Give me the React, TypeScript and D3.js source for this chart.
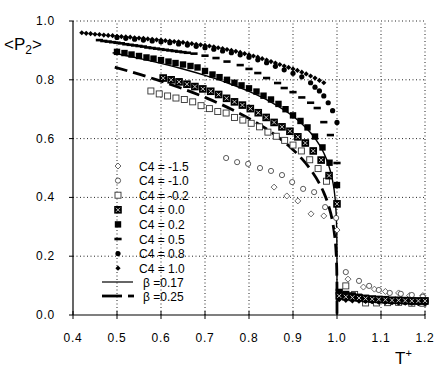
import React from "react";
import * as d3 from "d3";

// ---------- data ----------
const xTicks = [0.4, 0.5, 0.6, 0.7, 0.8, 0.9, 1.0, 1.1, 1.2];
const yTicks = [0.0, 0.2, 0.4, 0.6, 0.8, 1.0];

const legendLabels = ["C4 = -1.5", "C4 = -1.0", "C4 = -0.2", "C4 = 0.0", "C4 = 0.2", "C4 = 0.5", "C4 = 0.8", "C4 = 1.0"];
const lineLabels = ["β =0.17", "β =0.25"];

// C4 = -1.5 (open diamonds)
const tM15 = [0.857, 0.886, 0.911, 0.941, 0.97, 1.0, 1.025, 1.06, 1.085, 1.11, 1.14, 1.165, 1.195];
const pM15 = [0.435, 0.405, 0.388, 0.344, 0.337, 0.289, 0.122, 0.095, 0.088, 0.08, 0.075, 0.066, 0.066];
// C4 = -1.0 (open circles)
const tM10 = [0.748, 0.773, 0.798, 0.825, 0.85, 0.875, 0.898, 0.923, 0.948, 0.973, 0.998, 1.02, 1.05, 1.073, 1.095, 1.12, 1.145, 1.17, 1.195];
const pM10 = [0.534, 0.52, 0.514, 0.5, 0.49, 0.476, 0.452, 0.429, 0.418, 0.367, 0.33, 0.146, 0.116, 0.099, 0.085, 0.075, 0.072, 0.068, 0.062];
// C4 = -0.2 (open squares)
const tM02 = [0.577, 0.596, 0.615, 0.634, 0.653, 0.672, 0.691, 0.71, 0.729, 0.748, 0.767, 0.786, 0.805, 0.824, 0.843, 0.862, 0.881, 0.9, 0.919, 0.938, 0.957, 0.976, 1.02, 1.04, 1.065, 1.09, 1.115, 1.14, 1.17, 1.195];
const pM02 = [0.762, 0.752, 0.745, 0.738, 0.733, 0.725, 0.712, 0.702, 0.692, 0.687, 0.672, 0.663, 0.652, 0.64, 0.622, 0.608, 0.594, 0.578, 0.558, 0.528, 0.498, 0.455, 0.099, 0.07, 0.041, 0.041, 0.042, 0.043, 0.04, 0.04];
// C4 = 0.0 (x squares)
const tP00 = [0.605, 0.623, 0.641, 0.659, 0.677, 0.695, 0.713, 0.731, 0.749, 0.767, 0.785, 0.803, 0.821, 0.839, 0.857, 0.875, 0.893, 0.911, 0.928, 0.946, 0.964, 0.982, 1.0,
  1.005, 1.02, 1.035, 1.05, 1.065, 1.08, 1.095, 1.11, 1.125, 1.14, 1.155, 1.17, 1.185, 1.2];
const pP00 = [0.806, 0.8, 0.793, 0.785, 0.777, 0.769, 0.761, 0.75, 0.737, 0.725, 0.714, 0.702, 0.688, 0.672, 0.655, 0.64, 0.625, 0.606, 0.585, 0.558, 0.527, 0.474, 0.378,
  0.065, 0.062, 0.06, 0.058, 0.056, 0.054, 0.053, 0.052, 0.05, 0.05, 0.049, 0.048, 0.048, 0.048];
// C4 = 0.2 (filled squares)
const tP02 = [0.5, 0.517, 0.533, 0.55, 0.567, 0.583, 0.6, 0.617, 0.633, 0.65, 0.667, 0.683, 0.7, 0.717, 0.733, 0.75, 0.767, 0.783, 0.8, 0.817, 0.833, 0.85, 0.867, 0.883, 0.9, 0.917, 0.933, 0.95, 0.967, 0.983, 1.0,
  1.005, 1.02, 1.035, 1.05, 1.065, 1.08, 1.095, 1.11, 1.125, 1.14, 1.155, 1.17, 1.185, 1.2];
const pP02 = [0.895, 0.891, 0.886, 0.881, 0.876, 0.872, 0.867, 0.862, 0.857, 0.852, 0.847, 0.842, 0.83, 0.818, 0.809, 0.8, 0.79, 0.781, 0.771, 0.76, 0.746, 0.733, 0.718, 0.7, 0.679, 0.66, 0.638, 0.607, 0.57, 0.518, 0.442,
  0.075, 0.07, 0.066, 0.062, 0.058, 0.055, 0.053, 0.051, 0.05, 0.049, 0.048, 0.047, 0.046, 0.046];
// C4 = 0.5 (short dashes)
const tP05 = [0.46, 0.47, 0.48, 0.49, 0.5, 0.51, 0.52, 0.53, 0.54, 0.55, 0.56, 0.57, 0.58, 0.59, 0.6, 0.61, 0.62, 0.63, 0.64, 0.65, 0.66,
  0.675, 0.7, 0.725, 0.75, 0.78, 0.8, 0.82, 0.84, 0.865, 0.88, 0.9, 0.92, 0.94, 0.955, 0.97, 0.985, 1.0,
  1.005, 1.02, 1.035, 1.05, 1.065, 1.08, 1.095, 1.11, 1.125, 1.14, 1.155, 1.17, 1.185, 1.2];
const pP05 = [0.935, 0.932, 0.93, 0.928, 0.926, 0.924, 0.921, 0.919, 0.917, 0.915, 0.913, 0.91, 0.908, 0.906, 0.904, 0.902, 0.9, 0.898, 0.896, 0.894, 0.892,
  0.889, 0.882, 0.874, 0.862, 0.85, 0.837, 0.823, 0.806, 0.789, 0.772, 0.758, 0.74, 0.722, 0.704, 0.656, 0.612, 0.517,
  0.085, 0.078, 0.072, 0.066, 0.062, 0.058, 0.055, 0.053, 0.051, 0.05, 0.049, 0.048, 0.047, 0.046];
// C4 = 0.8 (filled circles)
const tP08 = [0.5, 0.52, 0.54, 0.56, 0.58, 0.6, 0.62, 0.64, 0.66, 0.68, 0.7, 0.72, 0.74, 0.76, 0.78, 0.8, 0.82, 0.84, 0.86, 0.88, 0.9, 0.92, 0.94, 0.95, 0.96, 0.97, 0.98, 0.99, 1.0,
  1.005, 1.02, 1.035, 1.05, 1.065, 1.08, 1.095, 1.11, 1.125, 1.14, 1.155, 1.17, 1.185, 1.2];
const pP08 = [0.944, 0.941, 0.938, 0.935, 0.932, 0.929, 0.926, 0.922, 0.918, 0.914, 0.909, 0.904, 0.898, 0.892, 0.885, 0.877, 0.868, 0.858, 0.846, 0.834, 0.822, 0.81, 0.79, 0.775, 0.762, 0.745, 0.722, 0.695, 0.655,
  0.058, 0.056, 0.054, 0.052, 0.05, 0.048, 0.047, 0.046, 0.045, 0.044, 0.043, 0.042, 0.042, 0.041];
// C4 = 1.0 (filled small diamonds)
const tP10 = [0.42, 0.43, 0.44, 0.45, 0.46, 0.47, 0.48, 0.49, 0.5, 0.51, 0.52, 0.53, 0.54, 0.55, 0.56, 0.57, 0.58, 0.59, 0.6, 0.61, 0.62, 0.63, 0.64, 0.65, 0.66, 0.67, 0.68, 0.69, 0.7,
  0.71, 0.72, 0.73, 0.74, 0.75, 0.76, 0.77, 0.78, 0.79, 0.8, 0.81, 0.82, 0.83, 0.84, 0.85, 0.86, 0.87, 0.88, 0.89, 0.9, 0.91, 0.92, 0.93, 0.94, 0.95, 0.96, 0.97,
  1.005, 1.02, 1.035, 1.05, 1.065, 1.08, 1.095, 1.11, 1.125, 1.14, 1.155, 1.17, 1.185, 1.2];
const pP10 = [0.96, 0.958, 0.957, 0.955, 0.954, 0.952, 0.951, 0.95, 0.948, 0.947, 0.946, 0.945, 0.943, 0.942, 0.941, 0.939, 0.938, 0.936, 0.935, 0.933, 0.932, 0.93, 0.929, 0.927, 0.925, 0.923, 0.921, 0.919, 0.917,
  0.915, 0.912, 0.909, 0.906, 0.903, 0.9, 0.897, 0.893, 0.889, 0.885, 0.881, 0.877, 0.872, 0.867, 0.862, 0.857, 0.852, 0.847, 0.842, 0.837, 0.832, 0.826, 0.82, 0.813, 0.806, 0.798, 0.79,
  0.052, 0.05, 0.048, 0.047, 0.046, 0.045, 0.044, 0.043, 0.042, 0.041, 0.04, 0.04, 0.039, 0.039];

// fitted curves, beta = 0.17 and beta = 0.25
const tB17 = [0.49, 0.55, 0.6, 0.65, 0.7, 0.75, 0.8, 0.85, 0.9, 0.92, 0.94, 0.96, 0.97, 0.98, 0.99, 0.995, 0.998, 0.999, 0.9997, 0.9999, 1.0];
const pB17 = [0.8918, 0.8731, 0.8558, 0.8366, 0.8149, 0.79, 0.7606, 0.7243, 0.6761, 0.6509, 0.6198, 0.5786, 0.551, 0.5143, 0.4571, 0.4063, 0.3477, 0.309, 0.2518, 0.2089, 0.0];
const tB25 = [0.495, 0.55, 0.6, 0.65, 0.7, 0.75, 0.8, 0.85, 0.9, 0.92, 0.94, 0.96, 0.97, 0.98, 0.99, 0.995, 0.998, 0.999, 0.9997, 0.9999, 1.0];
const pB25 = [0.843, 0.819, 0.7953, 0.7692, 0.7401, 0.7071, 0.6687, 0.6223, 0.5623, 0.5318, 0.4949, 0.4472, 0.4162, 0.3761, 0.3162, 0.2659, 0.2115, 0.1778, 0.1316, 0.1, 0.0];

// ---------- layout ----------
const W = 446, H = 379;
const X0 = 73, X1 = 425, Y0 = 315, Y1 = 21;
const FONT = "'Liberation Sans', Arial, sans-serif";

const x = d3.scaleLinear().domain([0.4, 1.2]).range([X0, X1]);
const y = d3.scaleLinear().domain([0, 1]).range([Y0, Y1]);

type Kind = "odiamond" | "ocircle" | "osquare" | "xsquare" | "fsquare" | "dash" | "fcircle" | "fdiamond";
const kinds: Kind[] = ["odiamond", "ocircle", "osquare", "xsquare", "fsquare", "dash", "fcircle", "fdiamond"];

function Marker({ kind, cx, cy }: { kind: Kind; cx: number; cy: number }) {
  switch (kind) {
    case "odiamond":
      return <path d={`M${cx},${cy - 3}L${cx + 3},${cy}L${cx},${cy + 3}L${cx - 3},${cy}Z`} fill="white" stroke="#444" strokeWidth={0.8} />;
    case "ocircle":
      return <circle cx={cx} cy={cy} r={2.6} fill="white" stroke="#333" strokeWidth={0.8} />;
    case "osquare":
      return <rect x={cx - 3} y={cy - 3} width={6} height={6} fill="white" stroke="#333" strokeWidth={0.9} />;
    case "xsquare":
      return (
        <g>
          <rect x={cx - 3.8} y={cy - 3.8} width={7.6} height={7.6} fill="#000" />
          <path d={`M${cx - 2},${cy - 2}L${cx + 2},${cy + 2}M${cx + 2},${cy - 2}L${cx - 2},${cy + 2}`} stroke="#ddd" strokeWidth={0.9} />
        </g>
      );
    case "fsquare":
      return <rect x={cx - 3.2} y={cy - 3.2} width={6.4} height={6.4} fill="#000" />;
    case "dash":
      return <rect x={cx - 3.6} y={cy - 1.3} width={7.2} height={2.6} fill="#000" />;
    case "fcircle":
      return <circle cx={cx} cy={cy} r={2.6} fill="#000" />;
    case "fdiamond":
      return <path d={`M${cx},${cy - 2.6}L${cx + 2.6},${cy}L${cx},${cy + 2.6}L${cx - 2.6},${cy}Z`} fill="#000" />;
  }
}

const series: { kind: Kind; t: number[]; p: number[] }[] = [
  { kind: "odiamond", t: tM15, p: pM15 },
  { kind: "ocircle", t: tM10, p: pM10 },
  { kind: "osquare", t: tM02, p: pM02 },
  { kind: "fdiamond", t: tP10, p: pP10 },
  { kind: "fcircle", t: tP08, p: pP08 },
  { kind: "dash", t: tP05, p: pP05 },
  { kind: "fsquare", t: tP02, p: pP02 },
  { kind: "xsquare", t: tP00, p: pP00 },
];

const line = d3.line<[number, number]>().x((d) => x(d[0])).y((d) => y(d[1])).curve(d3.curveMonotoneX);

export default function App() {
  const b17 = line(tB17.map((t, i) => [t, pB17[i]] as [number, number])) || "";
  const b25 = line(tB25.map((t, i) => [t, pB25[i]] as [number, number])) || "";
  const legY = (i: number) => 166 + i * 14.6;
  return (
    <svg width={W} height={H} style={{ position: "absolute", left: 0, top: 0, background: "#fff" }} fontFamily={FONT}>
      <rect width={W} height={H} fill="#fff" />
      {/* grid */}
      {xTicks.slice(1).map((t) => (
        <line key={"gx" + t} x1={x(t)} x2={x(t)} y1={Y0} y2={Y1} stroke="#222" strokeWidth={1} strokeDasharray="1,2.5" />
      ))}
      {yTicks.slice(1).map((t) => (
        <line key={"gy" + t} x1={X0} x2={X1} y1={y(t)} y2={y(t)} stroke="#222" strokeWidth={1} strokeDasharray="1,2.5" />
      ))}
      {/* axes */}
      <line x1={X0} x2={X0} y1={Y0} y2={Y1} stroke="#000" strokeWidth={1.2} />
      <line x1={X0} x2={X1} y1={Y0} y2={Y0} stroke="#000" strokeWidth={1.2} />
      {xTicks.map((t) => (
        <line key={"tx" + t} x1={x(t)} x2={x(t)} y1={Y0 - 4} y2={Y0 + 4} stroke="#000" strokeWidth={1} />
      ))}
      {yTicks.map((t) => (
        <line key={"ty" + t} x1={X0 - 4} x2={X0} y1={y(t)} y2={y(t)} stroke="#000" strokeWidth={1} />
      ))}
      {xTicks.map((t) => (
        <text key={"lx" + t} x={x(t)} y={Y0 + 27} fontSize={12} textAnchor="middle" letterSpacing={0.8}>
          {d3.format(".1f")(t)}
        </text>
      ))}
      {yTicks.map((t) => (
        <text key={"ly" + t} x={X0 - 18} y={y(t) + 4} fontSize={12} textAnchor="end" letterSpacing={0.8}>
          {d3.format(".1f")(t)}
        </text>
      ))}
      {/* axis titles */}
      <text x={4} y={50} fontSize={17}>
        {"<P"}
        <tspan fontSize={12} dy={4}>2</tspan>
        <tspan dy={-4}>{">"}</tspan>
      </text>
      <text x={395} y={364} fontSize={17}>
        T<tspan fontSize={11} dy={-7}>+</tspan>
      </text>
      {/* fitted curves */}
      <path d={b17} fill="none" stroke="#000" strokeWidth={1.4} />
      <path d={b25} fill="none" stroke="#000" strokeWidth={2.8} strokeDasharray="13,6" />
      {/* data */}
      {series.map((s) =>
        s.t.map((t, i) => <Marker key={s.kind + i} kind={s.kind} cx={x(t)} cy={y(s.p[i])} />)
      )}
      {/* legend */}
      {legendLabels.map((lab, i) => (
        <g key={lab}>
          <Marker kind={kinds[i]} cx={118} cy={legY(i)} />
          <text x={139} y={legY(i) + 4.5} fontSize={12}>{lab}</text>
        </g>
      ))}
      <line x1={102} x2={133} y1={282} y2={282} stroke="#000" strokeWidth={1.2} />
      <text x={143} y={287} fontSize={12}>{lineLabels[0]}</text>
      <line x1={102} x2={122} y1={296} y2={296} stroke="#000" strokeWidth={2.8} />
      <line x1={128} x2={134} y1={296} y2={296} stroke="#000" strokeWidth={2.8} />
      <text x={143} y={301} fontSize={12}>{lineLabels[1]}</text>
    </svg>
  );
}
